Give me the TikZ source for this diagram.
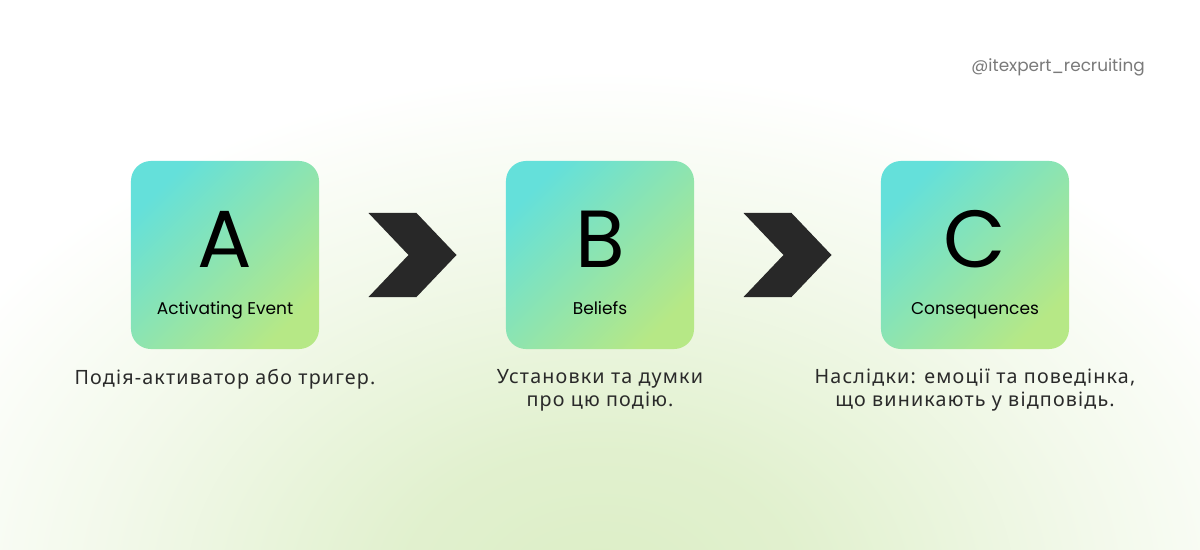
\documentclass[tikz,border=0pt]{standalone}
\usepackage{fontspec}
\setmainfont{Poppins}
\newfontfamily\ukrfont[LetterSpace=6]{Noto Sans}
\usetikzlibrary{calc}

\definecolor{cardcyan}{HTML}{64E0DA}
\definecolor{cardgreen}{HTML}{B6E886}
\definecolor{glowgreen}{HTML}{DCEEC6}
\definecolor{chevrongray}{HTML}{282828}
\definecolor{handlegray}{HTML}{7A7A7A}
\definecolor{desctext}{HTML}{2A2A2A}

\pgfdeclareradialshading{glow}{\pgfpoint{0bp}{0bp}}{color(0bp)=(glowgreen); color(7bp)=(glowgreen!85!white); color(17bp)=(glowgreen!35!white); color(25bp)=(white); color(50bp)=(white)}

\tikzset{
  card/.style={minimum width=4.7cm, minimum height=4.7cm, rounded corners=0.5cm,
    top color=cardcyan, bottom color=cardgreen, shading angle=45, inner sep=0pt},
  letter/.style={font=\fontsize{57.6}{60}\selectfont, inner sep=0pt, anchor=base},
  cardlabel/.style={font=\fontsize{12.1}{14}\selectfont, inner sep=0pt, anchor=base},
  desc/.style={font=\ukrfont\fontsize{14}{16.4}\selectfont, text=desctext, align=center, inner sep=0pt, anchor=north},
  chevron/.style={fill=chevrongray},
}

\begin{document}
\begin{tikzpicture}[x=0.025cm, y=-0.025cm]
  \useasboundingbox (0,0) rectangle (1200,550);
  % background glow
  \fill[white] (0,0) rectangle (1200,550);
  \begin{scope}
    \clip (0,0) rectangle (1200,550);
    \shade[shading=glow] (600,590) ellipse (18.5cm and 13cm);
  \end{scope}

  \node[font=\fontsize{12}{14}\selectfont, text=handlegray, inner sep=0pt, anchor=base east] (handle) at (1145,72) {@itexpert\_recruiting};

  % cards
  \node[card] (boxA) at (225,255) {};
  \node[card] (boxB) at (600,255) {};
  \node[card] (boxC) at (975,255) {};

  \node[letter] (letA) at (225,267) {A};
  \node[letter] (letB) at (600,267) {B};
  \node[letter] (letC) at (975,267) {C};

  \node[cardlabel] (labA) at (225,314) {Activating Event};
  \node[cardlabel] (labB) at (600,314) {Beliefs};
  \node[cardlabel] (labC) at (975,314) {Consequences};

  % chevrons between cards
  \coordinate (ab) at ($(boxA.east)!0.5!(boxB.west)$);
  \coordinate (bc) at ($(boxB.east)!0.5!(boxC.west)$);
  \foreach \c in {ab,bc}
    \fill[chevron] ($(\c)+(-44,-42)$) -- ($(\c)+(4,-42)$) -- ($(\c)+(44,0)$)
      -- ($(\c)+(4,42)$) -- ($(\c)+(-44,42)$) -- ($(\c)+(-4,0)$) -- cycle;

  % descriptions
  \node[desc] (descA) at (225,369) {Подія-активатор або тригер.};
  \node[desc] (descB) at (600,369) {Установки та думки\\про цю подію.};
  \node[desc] (descC) at (975,369) {Наслідки: емоції та поведінка,\\що виникають у відповідь.};
\end{tikzpicture}
\end{document}
